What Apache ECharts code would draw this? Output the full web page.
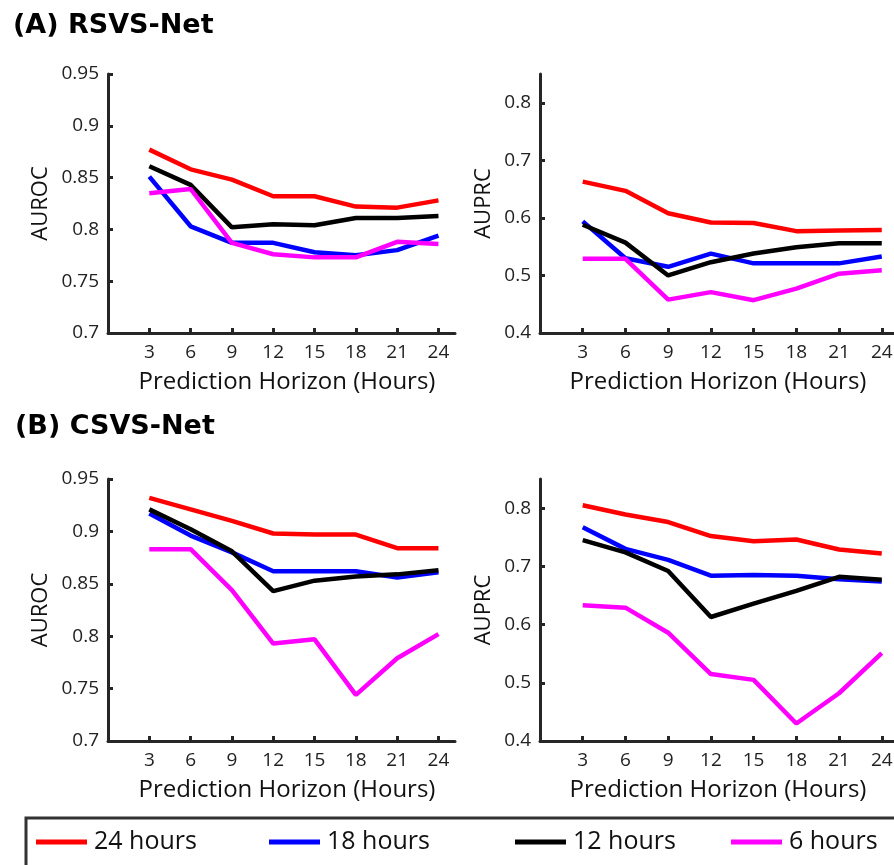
<!DOCTYPE html>
<html>
<head>
<meta charset="utf-8">
<script src="https://cdn.jsdelivr.net/npm/echarts@6/dist/echarts.min.js"></script>
<style>html,body{margin:0;padding:0;background:#fff}#c{width:894px;height:865px}</style>
</head>
<body>
<div id="c"></div>
<script>
var hours = [3, 6, 9, 12, 15, 18, 21, 24];
var seriesNames = ['24 hours', '18 hours', '12 hours', '6 hours'];
var seriesColors = ['#ff0000', '#0000ff', '#000000', '#ff00ff'];

var rocTicks = [0.7, 0.75, 0.8, 0.85, 0.9, 0.95];
var prcTicks = [0.4, 0.5, 0.6, 0.7, 0.8];

// (A) RSVS-Net AUROC
var rsvsRoc24 = [0.877, 0.858, 0.848, 0.832, 0.832, 0.822, 0.821, 0.828];
var rsvsRoc18 = [0.851, 0.803, 0.787, 0.787, 0.778, 0.775, 0.780, 0.794];
var rsvsRoc12 = [0.861, 0.843, 0.802, 0.805, 0.804, 0.811, 0.811, 0.813];
var rsvsRoc6  = [0.835, 0.839, 0.787, 0.776, 0.773, 0.773, 0.788, 0.786];
// (A) RSVS-Net AUPRC
var rsvsPrc24 = [0.663, 0.647, 0.608, 0.592, 0.591, 0.577, 0.578, 0.579];
var rsvsPrc18 = [0.594, 0.530, 0.515, 0.538, 0.521, 0.521, 0.521, 0.533];
var rsvsPrc12 = [0.588, 0.557, 0.500, 0.523, 0.538, 0.549, 0.556, 0.556];
var rsvsPrc6  = [0.529, 0.529, 0.458, 0.471, 0.457, 0.477, 0.503, 0.509];
// (B) CSVS-Net AUROC
var csvsRoc24 = [0.932, 0.921, 0.910, 0.898, 0.897, 0.897, 0.884, 0.884];
var csvsRoc18 = [0.917, 0.896, 0.880, 0.862, 0.862, 0.862, 0.856, 0.861];
var csvsRoc12 = [0.921, 0.902, 0.881, 0.843, 0.853, 0.857, 0.859, 0.863];
var csvsRoc6  = [0.883, 0.883, 0.844, 0.793, 0.797, 0.744, 0.779, 0.802];
// (B) CSVS-Net AUPRC
var csvsPrc24 = [0.805, 0.789, 0.776, 0.752, 0.743, 0.746, 0.729, 0.722];
var csvsPrc18 = [0.767, 0.730, 0.711, 0.684, 0.685, 0.684, 0.678, 0.674];
var csvsPrc12 = [0.745, 0.724, 0.692, 0.613, 0.636, 0.658, 0.682, 0.677];
var csvsPrc6  = [0.633, 0.629, 0.586, 0.515, 0.505, 0.430, 0.482, 0.551];

var panels = [
  {grid: {left: 108, top: 74, width: 347, height: 259}, xmax: 25.2, yName: 'AUROC', ymin: 0.7, ymax: 0.95, ticks: rocTicks, nameGap: 56, namePad: 11,
   data: [rsvsRoc24, rsvsRoc18, rsvsRoc12, rsvsRoc6]},
  {grid: {left: 540, top: 74, width: 356, height: 259}, xmax: 25, yName: 'AUPRC', ymin: 0.4, ymax: 0.85, ticks: prcTicks, nameGap: 45, namePad: 0,
   data: [rsvsPrc24, rsvsPrc18, rsvsPrc12, rsvsPrc6]},
  {grid: {left: 108, top: 479, width: 347, height: 262}, xmax: 25.2, yName: 'AUROC', ymin: 0.7, ymax: 0.95, ticks: rocTicks, nameGap: 56, namePad: 11,
   data: [csvsRoc24, csvsRoc18, csvsRoc12, csvsRoc6]},
  {grid: {left: 540, top: 479, width: 356, height: 262}, xmax: 25, yName: 'AUPRC', ymin: 0.4, ymax: 0.85, ticks: prcTicks, nameGap: 45, namePad: 0,
   data: [csvsPrc24, csvsPrc18, csvsPrc12, csvsPrc6]}
];

var FONT = 'Open Sans';
var AX = '#262626';
var grids = [], xAxes = [], yAxes = [], series = [];
function labelFmt(v) {
  return String(Math.round(v * 100) / 100);
}
panels.forEach(function (p, i) {
  grids.push(Object.assign({outerBoundsMode: 'none', containLabel: false}, p.grid));
  xAxes.push({
    type: 'value', gridIndex: i, min: 0, max: p.xmax,
    name: 'Prediction Horizon (Hours)', nameLocation: 'middle', nameGap: 37,
    nameTextStyle: {fontFamily: FONT, fontSize: 24, color: '#111', padding: [0, 0, 0, p.namePad]},
    axisLine: {show: true, onZero: false, lineStyle: {color: AX, width: 3}},
    axisTick: {show: true, inside: true, length: 5, lineStyle: {color: AX, width: 3}, customValues: hours},
    axisLabel: {fontFamily: FONT, fontSize: 19, color: '#222', margin: 10, customValues: hours},
    splitLine: {show: false}
  });
  yAxes.push({
    type: 'value', gridIndex: i, min: p.ymin, max: p.ymax,
    name: p.yName, nameLocation: 'middle', nameGap: p.nameGap, nameRotate: 90,
    nameTextStyle: {fontFamily: FONT, fontSize: 22, color: '#111'},
    axisLine: {show: true, onZero: false, lineStyle: {color: AX, width: 3}},
    axisTick: {show: true, inside: true, length: 5, lineStyle: {color: AX, width: 3}, customValues: p.ticks},
    axisLabel: {fontFamily: FONT, fontSize: 19, color: '#222', margin: 9, customValues: p.ticks, formatter: labelFmt},
    splitLine: {show: false}
  });
  p.data.forEach(function (arr, k) {
    series.push({
      type: 'line', name: seriesNames[k], xAxisIndex: i, yAxisIndex: i,
      data: hours.map(function (h, j) { return [h, arr[j]]; }),
      symbol: 'none', showSymbol: false,
      lineStyle: {color: seriesColors[k], width: 4.5},
      itemStyle: {color: seriesColors[k]},
      z: 2 + k, animation: false, silent: true
    });
  });
});

var legendLefts = [36, 269, 515, 731];
var legends = seriesNames.map(function (n, k) {
  return {
    data: [{name: n, icon: 'rect'}], left: legendLefts[k], top: 829, padding: 0,
    itemWidth: 51, itemHeight: 5, itemGap: 0, selectedMode: false,
    textStyle: {fontFamily: FONT, fontSize: 25, color: '#111', lineHeight: 26, padding: [0, 0, 0, 2]}
  };
});

var chart = echarts.init(document.getElementById('c'), null, {renderer: 'canvas'});
chart.setOption({
  animation: false,
  backgroundColor: '#fff',
  grid: grids, xAxis: xAxes, yAxis: yAxes, series: series,
  legend: legends,
  graphic: [
    {type: 'text', left: 13, top: 12, style: {text: '(A) RSVS-Net', font: 'bold 27px "DejaVu Sans"', fill: '#000'}},
    {type: 'text', left: 15, top: 413, style: {text: '(B) CSVS-Net', font: 'bold 27px "DejaVu Sans"', fill: '#000'}},
    {type: 'rect', shape: {x: 26, y: 818, width: 900, height: 100}, style: {fill: 'none', stroke: '#333', lineWidth: 3}, z: -1}
  ]
});
</script>
</body>
</html>
